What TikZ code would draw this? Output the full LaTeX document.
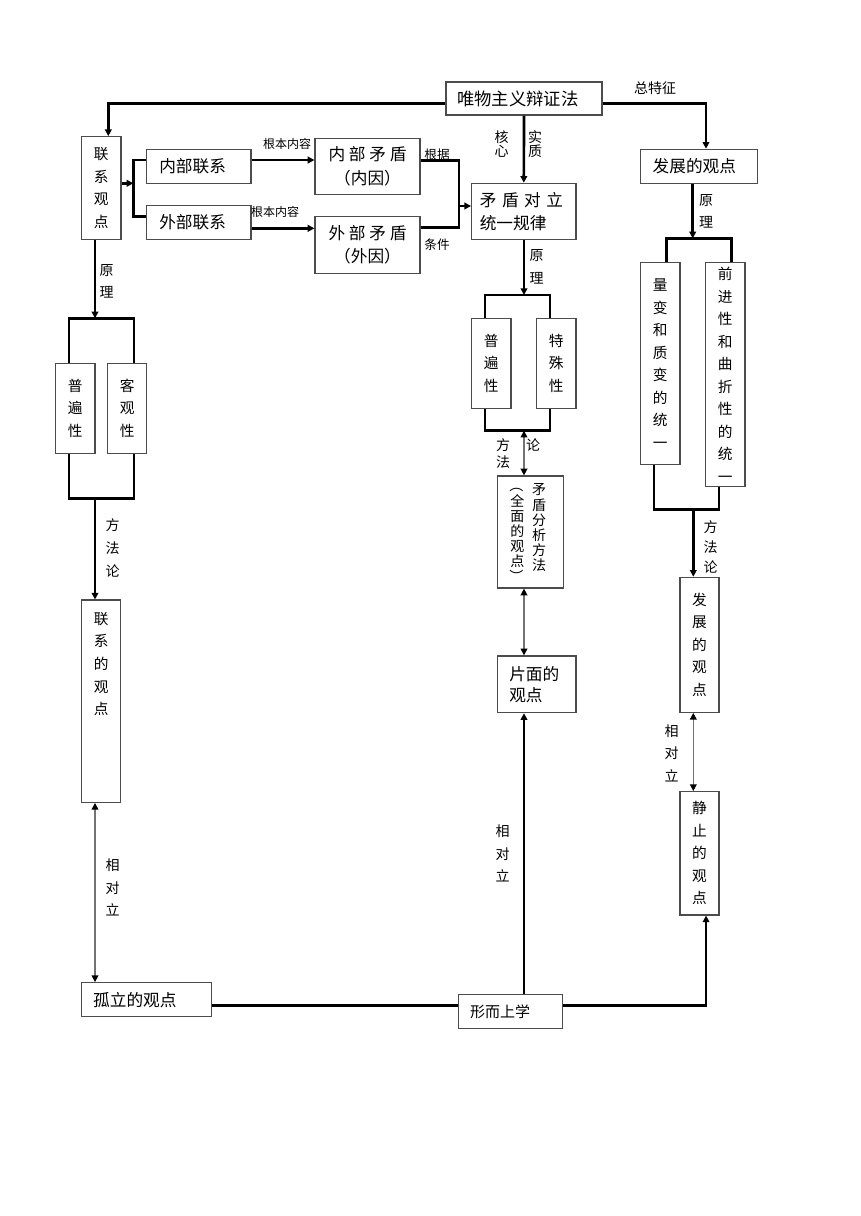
\documentclass[tikz,border=0pt]{standalone}
\usepackage{fontspec}
\setmainfont{Noto Sans CJK SC}
\usetikzlibrary{arrows.meta,calc}

\begin{document}
\begin{tikzpicture}[x=0.75pt,y=-0.75pt,
	box/.style={draw=black!70, line width=0.9pt, inner sep=0pt, fill=white},
	bx/.style 2 args={box, minimum width=#1*0.75pt, minimum height=#2*0.75pt},
	tw/.style={align=left, text width=#1*0.75pt},
	hfont/.style={font=\fontsize{12.5}{17.5}\selectfont},
	vt/.style={font=\fontsize{11}{16.9}\selectfont, align=center, inner sep=0pt},
	vc/.style={font=\fontsize{10.5}{11.4}\selectfont, align=center, inner sep=0pt},
	lab/.style={font=\fontsize{10.5}{16.9}\selectfont, align=center, inner sep=0pt},
	sml/.style={font=\fontsize{9}{11}\selectfont, inner sep=0pt},
	thk/.style={line width=2pt, line join=miter},
	arr/.style={-{Triangle[length=5pt,width=5pt]}},
	dbl/.style={draw=black!55, line width=1pt, {Triangle[black,length=5pt,width=5pt]}-{Triangle[black,length=5pt,width=5pt]}}
	]
	%%%%% START %%%%%
	
	\useasboundingbox (0,0) rectangle (860,1216);
	
	\node[bx={156}{33}, tw=134, font=\fontsize{13}{17}\selectfont] (wwz) at (524,98.5) {唯物主义辩证法};
	
	\node[bx={39.3}{102.6}, vt] (lxgd) at (101.3,188) {联\\系\\观\\点};
	\node[bx={104.3}{34}, hfont, tw=79] (nblx) at (198.8,166.3) {内部联系};
	\node[bx={104.3}{34}, hfont, tw=79] (wblx) at (198.8,222.2) {外部联系};
	\node[bx={105}{56}, hfont, align=center] (nbmd) at (367.5,166.3) {内 部 矛 盾\\（内因）};
	\node[bx={105}{56.6}, hfont, align=center] (wbmd) at (367.5,245) {外 部 矛 盾\\（外因）};
	\node[bx={104.3}{56}, hfont, tw=88] (mdgl) at (523.8,211.3) {矛 盾 对 立\\统一规律};
	\node[bx={116.6}{34}, hfont, tw=92.6] (fzgd) at (699,166.3) {发展的观点};
	
	\node[bx={39.3}{90}, vt] (pbx1) at (75.3,408.3) {普\\遍\\性};
	\node[bx={39}{90}, vt] (kgx) at (127.2,408.3) {客\\观\\性};
	\node[bx={39}{202.3}] (lxdgd) at (101.2,701.2) {};
	\node[vt] (lxdgdt) at (101.2,664) {联\\系\\的\\观\\点};
	\node[bx={130}{34}, hfont, tw=107] (gldgd) at (146.7,999.7) {孤立的观点};
	
	\node[bx={39.3}{90}, vt] (pbx2) at (491.3,363.3) {普\\遍\\性};
	\node[bx={39.3}{90}, vt] (tsx) at (556.3,363.3) {特\\殊\\性};
	\node[bx={65.6}{112}] (mdfx) at (530.5,532) {};
	\node[vc] (mdfxa) at (539,528) {矛\\盾\\分\\析\\方\\法};
	\node[vc] (mdfxb) at (517.3,536.5) {\smash{\rotatebox[origin=c]{-90}{（}}\\全\\面\\的\\观\\点\\\smash{\rotatebox[origin=c]{-90}{）}}};
	\node[bx={78.3}{56.7}, tw=55, font=\fontsize{12.5}{15.75}\selectfont] (pmgd) at (536.8,684.3) {片面的\\观点};
	\node[bx={104.4}{34}, tw=81, font=\fontsize{11.25}{14}\selectfont] (xesx) at (510.5,1011.3) {形而上学};
	
	\node[bx={39.3}{201.6}, vt] (lbzh) at (660.3,363.5) {量\\变\\和\\质\\变\\的\\统\\一};
	\node[bx={39.3}{224}, vt] (qjx) at (725.3,374.7) {前\\进\\性\\和\\曲\\折\\性\\的\\统\\一};
	\node[bx={39}{135}, vt] (fzgd2) at (699.5,644.8) {发\\展\\的\\观\\点};
	\node[bx={39}{123.3}, vt] (jzgd) at (699.5,853.3) {静\\止\\的\\观\\点};
	
	\coordinate (lxfork) at (133.3,183.3);
	\coordinate (mdjoin) at (459,206);
	\coordinate (fzfork) at (692.7,238.3);
	\coordinate (fzmerge) at (693.3,509.3);
	\coordinate (mdfork) at (524,295);
	\coordinate (mdmerge) at (524,430.7);
	\coordinate (lxfork2) at (95,318.3);
	\coordinate (lxmerge) at (95,498.3);
	
	\draw[thk, arr] ([yshift=-3.6pt]wwz.west) -| ([xshift=5.25pt]lxgd.north);
	\draw[thk, arr] ([yshift=-3.6pt]wwz.east) -| ([xshift=5.25pt]fzgd.north);
	\draw[thk, arr] (wwz.south) -- (mdgl.north);
	
	\draw[thk, arr] (lxgd.east |- lxfork) -- (lxfork);
	\draw[thk] ([yshift=4.7pt]nblx.west) -| (lxfork) |- ([yshift=4.1pt]wblx.west);
	\draw[thk, arr] ([yshift=4.7pt]nblx.east) -- ([yshift=4.7pt]nblx.east -| nbmd.west);
	\draw[thk, arr] ([yshift=-4.6pt]wblx.east) -- ([yshift=-4.6pt]wblx.east -| wbmd.west);
	\draw[thk] ([yshift=4.2pt]nbmd.east) -| (mdjoin) |- ([yshift=13pt]wbmd.east);
	\draw[thk, arr] (mdjoin) -- (mdjoin -| mdgl.west);
	
	\draw[thk, arr] (fzfork |- fzgd.south) -- (fzfork);
	\draw[thk] ([xshift=4.8pt]lbzh.north) |- (fzfork) -| ([xshift=4.8pt]qjx.north);
	\draw[thk] ([xshift=-4.7pt]lbzh.south) |- (fzmerge) -| ([xshift=-4.7pt]qjx.south);
	\draw[thk, arr] (fzmerge) -- (fzmerge |- fzgd2.north);
	\draw[dbl] (fzmerge |- fzgd2.south) -- (fzmerge |- jzgd.north);
	\draw[thk, arr] ([yshift=4.2pt]xesx.east) -| ([xshift=4.9pt]jzgd.south);
	
	\draw[thk, arr] (mdfork |- mdgl.south) -- (mdfork);
	\draw[thk] ([xshift=-4.7pt]pbx2.north) |- (mdfork) -| ([xshift=-4.7pt]tsx.north);
	\draw[thk] ([xshift=-4.7pt]pbx2.south) |- (mdmerge) -| ([xshift=-4.7pt]tsx.south);
	\draw[dbl] (mdmerge) -- (mdmerge |- mdfx.north);
	\draw[dbl] (mdmerge |- mdfx.south) -- (mdmerge |- pmgd.north);
	\draw[thk, arr] (mdmerge |- xesx.north) -- (mdmerge |- pmgd.south);
	\draw[thk] ([yshift=-4.5pt]gldgd.east) -- ([yshift=-4.5pt]gldgd.east -| xesx.west);
	
	\draw[thk, arr] (lxfork2 |- lxgd.south) -- (lxfork2);
	\draw[thk] ([xshift=-4.7pt]pbx1.north) |- (lxfork2) -| ([xshift=5pt]kgx.north);
	\draw[thk] ([xshift=-4.7pt]pbx1.south) |- (lxmerge) -| ([xshift=5pt]kgx.south);
	\draw[thk, arr] (lxmerge) -- (lxmerge |- lxdgd.north);
	\draw[dbl] (lxmerge |- lxdgd.south) -- (lxmerge |- gldgd.north);
	
	\node[lab] (zt) at (655,88) {总特征};
	\node[sml] (gb1) at (287,144) {根本内容};
	\node[sml] (gb2) at (275,211.7) {根本内容};
	\node[sml, font=\fontsize{9.5}{11}\selectfont] (gj) at (437,155) {根据};
	\node[sml, font=\fontsize{9.5}{11}\selectfont] (tj) at (437,245) {条件};
	\node[lab, font=\fontsize{10.5}{10.9}\selectfont] (hx) at (501.7,144) {核\\心};
	\node[lab, font=\fontsize{10.5}{10.9}\selectfont] (sz) at (535,144) {实\\质};
	\node[lab] (yl1) at (536.7,266.7) {原\\理};
	\node[lab] (yl2) at (706,211.3) {原\\理};
	\node[lab] (yl3) at (106.7,281.5) {原\\理};
	\node[lab] (ff1) at (112.7,548) {方\\法\\论};
	\node[lab, font=\fontsize{10.5}{12.5}\selectfont] (ff2) at (503,453.3) {方\\法};
	\node[lab] (lun) at (533,445) {论};
	\node[lab, font=\fontsize{10.5}{15}\selectfont] (ff3) at (710.7,546.7) {方\\法\\论};
	\node[lab] (xd1) at (112.7,887.5) {相\\对\\立};
	\node[lab] (xd2) at (502.7,853.7) {相\\对\\立};
	\node[lab] (xd3) at (671.7,753.3) {相\\对\\立};
	
	%%%%% END %%%%%
\end{tikzpicture}
\end{document}
